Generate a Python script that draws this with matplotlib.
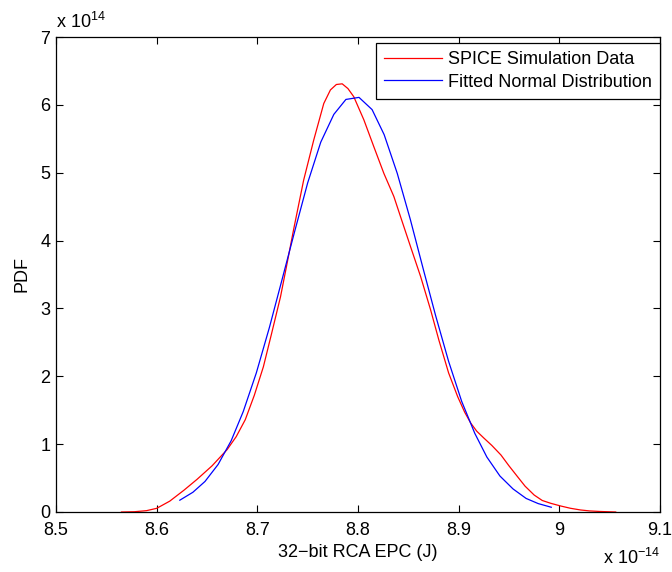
import matplotlib
matplotlib.use("Agg")
import matplotlib.pyplot as plt

plt.rcParams['font.family'] = ['Liberation Sans', 'DejaVu Sans']
plt.rcParams['mathtext.fontset'] = 'custom'
plt.rcParams['mathtext.rm'] = 'Liberation Sans'

# SPICE simulation data (kernel density), x in 1e-14 J, pdf in 1e14
spice_x = [8.565, 8.578, 8.590, 8.600, 8.613, 8.627, 8.640, 8.655, 8.670, 8.679,
           8.688, 8.697, 8.706, 8.714, 8.723, 8.7295, 8.736, 8.746, 8.756, 8.766,
           8.7726, 8.7785, 8.7843, 8.790, 8.7958, 8.8005, 8.8058, 8.8158, 8.8257, 8.8356,
           8.8423, 8.8522, 8.8622, 8.8721, 8.8804, 8.890, 8.899, 8.906, 8.912, 8.918,
           8.925, 8.933, 8.942, 8.950, 8.9585, 8.966, 8.975, 8.983, 8.9915, 9.0015,
           9.011, 9.021, 9.030, 9.040, 9.056]
spice_y = [0.0, 0.004, 0.02, 0.054, 0.16, 0.32, 0.48, 0.68, 0.92, 1.11,
           1.36, 1.72, 2.14, 2.62, 3.17, 3.66, 4.16, 4.89, 5.48, 6.02,
           6.22, 6.30, 6.31, 6.24, 6.12, 5.96, 5.78, 5.38, 4.99, 4.65,
           4.35, 3.91, 3.47, 2.98, 2.53, 2.05, 1.70, 1.47, 1.31, 1.19,
           1.09, 0.98, 0.84, 0.68, 0.52, 0.38, 0.25, 0.17, 0.128, 0.088,
           0.055, 0.03, 0.016, 0.008, 0.0]

# fitted normal distribution
fit_x = [8.623, 8.636, 8.648, 8.661, 8.674, 8.686, 8.699, 8.712, 8.725, 8.737,
         8.750, 8.763, 8.776, 8.788, 8.801, 8.814, 8.826, 8.839, 8.852, 8.865,
         8.877, 8.890, 8.903, 8.916, 8.928, 8.941, 8.954, 8.967, 8.979, 8.992]
fit_y = [0.174, 0.291, 0.450, 0.70, 1.05, 1.48, 2.05, 2.72, 3.45, 4.13,
         4.85, 5.45, 5.86, 6.08, 6.11, 5.93, 5.56, 4.99, 4.31, 3.57,
         2.90, 2.22, 1.63, 1.16, 0.81, 0.53, 0.34, 0.20, 0.124, 0.070]

x_ticks = [8.5, 8.6, 8.7, 8.8, 8.9, 9.0, 9.1]
x_tick_labels = ['8.5', '8.6', '8.7', '8.8', '8.9', '9', '9.1']
y_ticks = [0, 1, 2, 3, 4, 5, 6, 7]
fs = 13

fig = plt.figure(figsize=(6.72, 5.72), dpi=100)
ax = fig.add_axes([56 / 672, 60 / 572, 604 / 672, 475 / 572])

ax.plot(spice_x, spice_y, color='#ff0000', lw=0.9, label='SPICE Simulation Data')
ax.plot(fit_x, fit_y, color='#0000ff', lw=0.9, label='Fitted Normal Distribution')

ax.set_xlim(8.5, 9.1)
ax.set_ylim(0, 7)
ax.set_xticks(x_ticks)
ax.set_xticklabels(x_tick_labels)
ax.set_yticks(y_ticks)
ax.tick_params(direction='in', top=True, right=True, length=5, width=0.8,
               labelsize=fs)
ax.tick_params(axis='x', pad=7)
ax.tick_params(axis='y', pad=4)
for s in ax.spines.values():
    s.set_linewidth(0.9)

ax.set_xlabel('32\u2212bit RCA EPC (J)', fontsize=fs, labelpad=4)
ax.set_ylabel('PDF', fontsize=fs, labelpad=7)

ax.text(0.0, 1.01, r'x 10$^{14}$', transform=ax.transAxes, fontsize=fs,
        ha='left', va='bottom')
ax.text(1.0, -0.075, r'x 10$^{-14}$', transform=ax.transAxes, fontsize=fs,
        ha='right', va='top')

leg = ax.legend(loc='upper right', bbox_to_anchor=(1.0, 1 - 6 / 475),
                fontsize=fs, handlelength=3.2, fancybox=False, framealpha=1,
                edgecolor='black', borderaxespad=0, borderpad=0.45,
                labelspacing=0.3, handletextpad=0.35)
leg.get_frame().set_linewidth(0.9)

fig.savefig('out.png', dpi=100)
